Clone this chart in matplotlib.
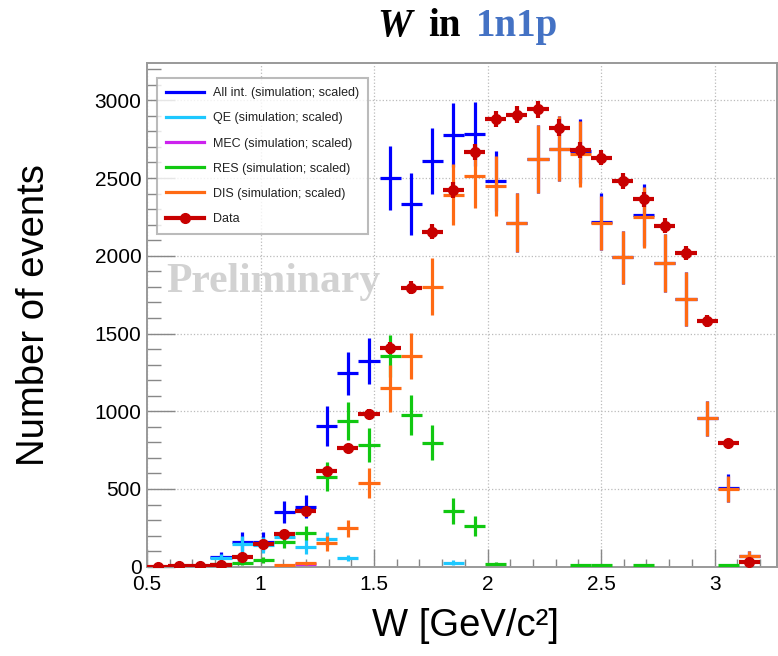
import numpy as np
import matplotlib
matplotlib.use('Agg')
import matplotlib.pyplot as plt
from matplotlib.lines import Line2D
from matplotlib.ticker import MultipleLocator

nan = np.nan

# W binning: 29 bins from 0.5 to 3.2 GeV/c^2
bin_edges = np.linspace(0.5, 3.2, 30)

# Data counts
data = [1, 3, 5, 13, 64, 145, 212, 360, 618, 762, 981, 1405, 1795, 2156, 2424,
        2667, 2879, 2907, 2943, 2825, 2681, 2632, 2482, 2364, 2194, 2017, 1581, 794, 32]

# scaled simulation (value, error)
all_int = [nan, nan, nan, 62, 161, 161, 354, 386, 907, 1244, 1326, 2499, 2332, 2609, 2778,
           2784, 2478, 2214, 2624, 2688, 2675, 2220, 1989, 2263, 1952, 1722, 955, 504, 69]
all_int_err = [nan, nan, nan, 35, 61, 60, 70, 75, 129, 137, 148, 204, 200, 210, 205,
               205, 193, 189, 217, 210, 205, 183, 172, 200, 188, 172, 114, 90, 35]

qe = [nan, nan, nan, 55, 146, 140, 190, 129, 176, 54, nan, nan, nan, nan, 26,
      nan, nan, nan, nan, nan, nan, nan, nan, nan, nan, nan, nan, nan, nan]
qe_err = [nan, nan, nan, 25, 50, 50, 45, 50, 45, 20, nan, nan, nan, nan, 15,
          nan, nan, nan, nan, nan, nan, nan, nan, nan, nan, nan, nan, nan, nan]

mec = [nan, nan, nan, nan, nan, nan, nan, 18, nan, nan, nan, nan, nan, nan, nan,
       nan, nan, nan, nan, nan, nan, nan, nan, nan, nan, nan, nan, nan, nan]
mec_err = [nan, nan, nan, nan, nan, nan, nan, 8, nan, nan, nan, nan, nan, nan, nan,
           nan, nan, nan, nan, nan, nan, nan, nan, nan, nan, nan, nan, nan, nan]

res = [nan, nan, nan, 17, 26, 43, 161, 219, 579, 940, 783, 1356, 976, 798, 358,
       262, 20, nan, nan, nan, 12, 12, nan, 8, nan, nan, nan, 12, nan]
res_err = [nan, nan, nan, 10, 15, 20, 40, 45, 94, 122, 110, 135, 131, 111, 86,
           66, 12, nan, nan, nan, 8, 8, nan, 6, nan, nan, nan, 8, nan]

dis = [nan, nan, nan, nan, nan, nan, 11, 22, 150, 247, 541, 1148, 1356, 1802, 2392,
       2510, 2450, 2214, 2624, 2688, 2655, 2210, 1989, 2248, 1952, 1722, 955, 498, 69]
dis_err = [nan, nan, nan, nan, nan, nan, 5, 8, 47, 56, 97, 150, 150, 182, 197,
           204, 193, 189, 217, 210, 210, 175, 172, 195, 188, 172, 114, 85, 35]

labels = ['All int. (simulation; scaled)', 'QE (simulation; scaled)',
          'MEC (simulation; scaled)', 'RES (simulation; scaled)',
          'DIS (simulation; scaled)', 'Data']
colors = ['#0000ff', '#1ec8ff', '#cc22ee', '#11c811', '#ff6a14', '#c80000']

plt.rcParams['font.family'] = ['Liberation Sans', 'DejaVu Sans']

centers = 0.5 * (bin_edges[:-1] + bin_edges[1:])
half_w = 0.5 * np.diff(bin_edges)

fig = plt.figure(figsize=(7.78, 6.56), dpi=100)
ax = fig.add_axes([147 / 778, 1 - 566.7 / 656, 630 / 778, (566.7 - 63) / 656])

series = [(all_int, all_int_err), (qe, qe_err), (mec, mec_err), (res, res_err), (dis, dis_err)]
for (vals, errs), col in zip(series, colors[:5]):
    ax.errorbar(centers, vals, xerr=half_w, yerr=errs, fmt='none', ecolor=col,
                elinewidth=2.3, capsize=0, zorder=3)

ax.errorbar(centers, data, xerr=half_w, yerr=np.sqrt(data), fmt='o', color=colors[5],
            ms=7, elinewidth=3.0, capsize=0, zorder=5)

ax.set_xlim(0.5, 3.275)
ax.set_ylim(0, 3240)
ax.xaxis.set_major_locator(MultipleLocator(0.5))
ax.xaxis.set_minor_locator(MultipleLocator(0.1))
ax.yaxis.set_major_locator(MultipleLocator(500))
ax.yaxis.set_minor_locator(MultipleLocator(100))
ax.set_xticks([0.5, 1, 1.5, 2, 2.5, 3])
ax.set_xticklabels(['0.5', '1', '1.5', '2', '2.5', '3'])

ax.tick_params(axis='both', which='both', direction='in', colors='#888888',
               labelcolor='black', labelsize=15, width=1.0)
ax.tick_params(axis='x', which='major', length=13, pad=6)
ax.tick_params(axis='x', which='minor', length=6)
ax.tick_params(axis='y', which='major', length=20, pad=4)
ax.tick_params(axis='y', which='minor', length=10)
for sp in ax.spines.values():
    sp.set_color('#999999')
    sp.set_linewidth(1.4)

ax.grid(True, which='major', linestyle=':', color='#bbbbbb', linewidth=0.9)
ax.set_axisbelow(True)

ax.set_xlabel('W [GeV/c²]', fontsize=27.5)
ax.set_ylabel('Number of events', fontsize=27.5)
ax.xaxis.set_label_coords((466 - 147) / 630, -(608 - 566.7) / 503.7)
ax.yaxis.set_label_coords(-(147 - 52) / 630, 0.5)

handles = [Line2D([], [], color=c, lw=2.3) for c in colors[:5]]
handles.append(Line2D([], [], color=colors[5], lw=3.0, marker='o', ms=7))
leg = ax.legend(handles, labels, loc='upper left', bbox_to_anchor=((157 - 147) / 630, (566.7 - 78) / 503.7),
                fontsize=9, frameon=True, fancybox=False, edgecolor='#aaaaaa',
                handlelength=3.0, handletextpad=0.7, labelspacing=1.05, borderpad=0.75,
                borderaxespad=0)
leg.get_frame().set_linewidth(1.5)
for t in leg.get_texts():
    t.set_color('#222222')
leg.set_zorder(10)

ax.text((166 - 147) / 630, (566.7 - 292) / 503.7, 'Preliminary', transform=ax.transAxes,
        fontsize=30, fontweight='bold', family='Liberation Serif', color='#d2d2d2',
        ha='left', va='baseline', zorder=11)

# title: italic W, then "in", then the topology in blue
ty = 1 - 36 / 656
fig.text(377 / 778, ty, 'W', fontsize=28, fontweight='bold', fontstyle='italic',
         family='Liberation Serif', va='baseline', ha='left')
fig.text(428 / 778, ty, 'in', fontsize=28, fontweight='bold',
         family='Liberation Serif', va='baseline', ha='left')
fig.text(476 / 778, ty, '1n1p', fontsize=28, fontweight='bold', color='#4472c4',
         family='Liberation Serif', va='baseline', ha='left')

fig.savefig('out.png', dpi=100)
